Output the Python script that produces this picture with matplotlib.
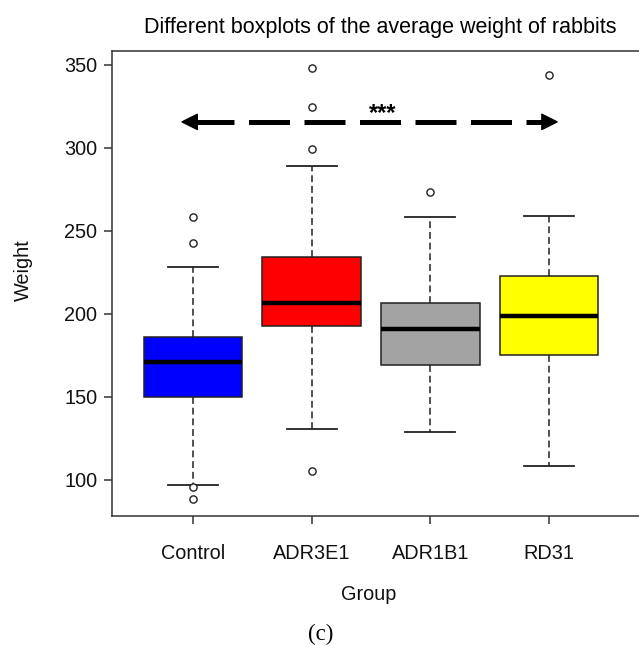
import matplotlib
matplotlib.use("Agg")
import matplotlib.pyplot as plt

plt.rcParams['font.family'] = ['Liberation Sans', 'DejaVu Sans']

groups = ["Control", "ADR3E1", "ADR1B1", "RD31"]
q1 = [149.8, 192.8, 169.0, 175.5]
medians = [171.0, 206.5, 190.8, 198.8]
q3 = [186.0, 234.3, 206.5, 222.8]
whislo = [97.0, 131.0, 129.0, 108.5]
whishi = [228.5, 289.2, 258.5, 259.0]
fliers = [[258.4, 242.5, 95.8, 88.6],
          [348.2, 324.7, 299.4, 105.4],
          [273.5],
          [344.0]]
colors = ["#0000FF", "#FF0000", "#A3A3A3", "#FFFF00"]
yticks = [100, 150, 200, 250, 300, 350]

# significance annotation
sig_text = "***"
sig_y = 315.7
sig_from, sig_to = 1, 4

fig = plt.figure(figsize=(6.39, 6.46), dpi=100)
W, H = 639, 646
ax = fig.add_axes([112 / W, 1 - 516 / H, 536 / W, 465 / H])

stats = []
for i, g in enumerate(groups):
    stats.append(dict(label=g, q1=q1[i], med=medians[i], q3=q3[i],
                      whislo=whislo[i], whishi=whishi[i], fliers=fliers[i]))

bp = ax.bxp(stats, positions=range(1, len(groups) + 1), widths=0.83,
            patch_artist=True, showfliers=True,
            boxprops=dict(edgecolor="#222222", linewidth=1.1),
            medianprops=dict(color="black", linewidth=3.2, solid_capstyle="butt"),
            whiskerprops=dict(color="#222222", linewidth=1.1, linestyle=(0, (4.5, 2.5))),
            capprops=dict(color="#222222", linewidth=1.3),
            flierprops=dict(marker="o", markersize=5.2, markerfacecolor="white",
                            markeredgecolor="#222222", markeredgewidth=1.0))
for patch, c in zip(bp["boxes"], colors):
    patch.set_facecolor(c)
for cap in bp["caps"]:
    x = cap.get_xdata()
    m = (x[0] + x[1]) / 2
    cap.set_xdata([m - 0.21, m + 0.21])

ax.set_xlim(0.318, 0.318 + 536 / 118.7)
ax.set_ylim(78.3, 358.4)
ax.set_yticks(yticks)
ax.set_xticks(range(1, len(groups) + 1))
ax.set_xticklabels(groups)

for s in ["left", "bottom", "top"]:
    ax.spines[s].set_linewidth(1.1)
    ax.spines[s].set_color("#333333")
ax.spines["right"].set_visible(False)
ax.tick_params(axis="both", direction="out", length=5.5, width=1.1, color="#333333",
               labelsize=14.3, labelcolor="#111111")
ax.tick_params(axis="x", pad=15)
ax.tick_params(axis="y", pad=5)

# dashed double arrow
ax.plot([sig_from, sig_to], [sig_y, sig_y], color="black", linewidth=3.6,
        dashes=(41 * 0.72 / 3.6, 14.5 * 0.72 / 3.6), solid_capstyle="butt",
        dash_capstyle="butt")
ax.annotate("", xy=(sig_from - 0.092, sig_y), xytext=(sig_from, sig_y),
            arrowprops=dict(facecolor="black", edgecolor="black", width=3.4,
                            headwidth=11, headlength=11, shrink=0))
ax.annotate("", xy=(sig_to + 0.068, sig_y), xytext=(sig_to, sig_y),
            arrowprops=dict(facecolor="black", edgecolor="black", width=3.4,
                            headwidth=11, headlength=11, shrink=0))
ax.text((sig_from + sig_to) / 2 + 0.1, sig_y + 5.0, sig_text, ha="center", va="center",
        fontsize=17, fontweight="bold")

fig.text(380 / W, 1 - 27 / H, "Different boxplots of the average weight of rabbits",
         ha="center", va="center", fontsize=15.5, color="black")
fig.text(23 / W, 1 - 270 / H, "Weight", rotation=90, ha="center", va="center",
         fontsize=14.3, color="#111111")
fig.text(369 / W, 1 - 595 / H, "Group", ha="center", va="center",
         fontsize=14.3, color="#111111")
fig.text(321 / W, 1 - 634 / H, "(c)", ha="center", va="center",
         fontsize=16.5, family=["Liberation Serif", "DejaVu Serif"])

fig.savefig("out.png", dpi=100)
